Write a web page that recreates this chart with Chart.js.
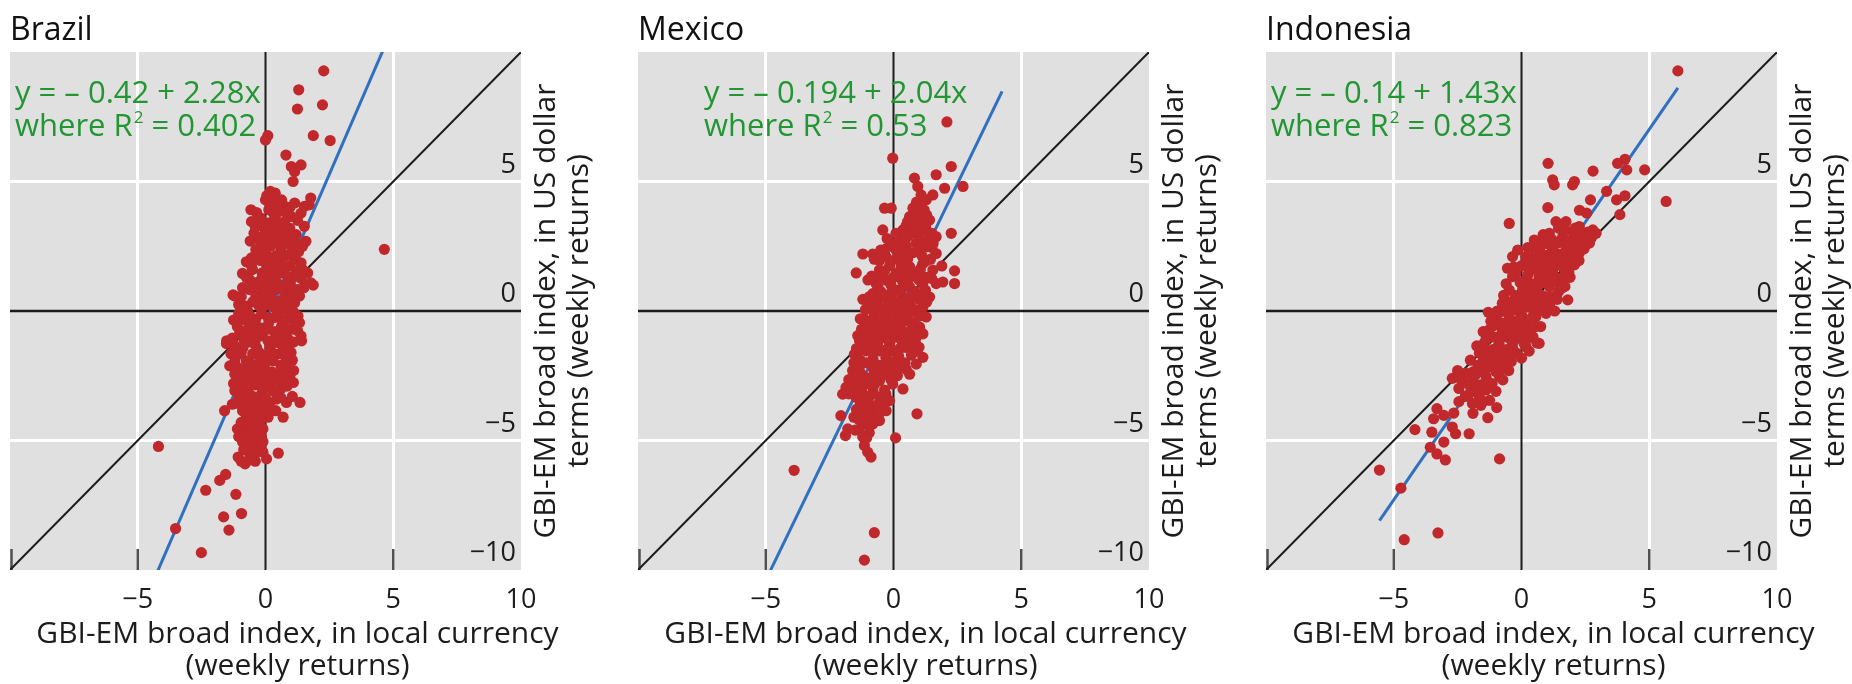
<!DOCTYPE html>
<html>
<head>
<meta charset="utf-8">
<script src="https://cdn.jsdelivr.net/npm/chart.js@4.4.1/dist/chart.umd.min.js"></script>
<style>
  html, body { margin: 0; padding: 0; background: #ffffff; width: 1852px; height: 684px; overflow: hidden; }
  canvas { position: absolute; top: 0; }
</style>
</head>
<body>
<canvas id="panel0" width="626" height="684" style="left:0px"></canvas>
<canvas id="panel1" width="626" height="684" style="left:628px"></canvas>
<canvas id="panel2" width="596" height="684" style="left:1256px"></canvas>
<script>
// Weekly returns: x = GBI-EM broad index in local currency, y = same index in US dollar terms
const brazilPoints = [
  [2.28,9.27],[1.30,8.54],[1.25,7.80],[2.23,7.96],[0.09,6.77],[0.00,6.60],[1.87,6.77],[2.53,6.58],
  [0.80,6.02],[1.01,5.58],[1.39,5.64],[1.14,5.38],[1.08,5.00],[4.65,2.38],[1.87,1.00],[-1.27,0.62],
  [0.19,4.62],[0.38,4.55],[0.00,4.29],[0.63,4.29],[0.76,4.04],[1.14,4.17],[1.52,4.04],[1.77,4.36],[1.71,4.10],
  [-0.57,3.91],[0.13,3.91],[0.38,3.65],[1.01,3.65],[1.39,3.78],[1.52,3.27],[1.58,2.69],
  [-0.13,3.27],[0.25,3.14],[0.63,3.14],[0.89,2.88],[-0.25,2.76],[0.13,2.76],[0.51,2.63],[1.01,2.50],
  [-0.38,2.37],[0.00,2.24],[0.38,2.12],[0.76,2.12],[1.14,1.99],[1.39,1.86],[1.65,1.47],[1.77,1.09],
  [-0.51,1.60],[-0.63,1.22],[-0.13,1.47],[0.25,1.35],[0.63,1.47],[1.01,1.22],[1.27,0.83],[1.33,0.58],
  [-1.20,0.58],[-0.63,0.83],[-0.38,0.58],[0.00,0.71],[0.38,0.83],[0.76,0.58],[1.14,0.32],
  [-0.76,0.19],[-0.25,0.19],[0.25,0.19],[0.63,0.06],[1.27,-0.19],[1.33,-0.45],[1.39,-0.96],
  [-0.89,-0.32],[-0.38,-0.32],[0.13,-0.45],[0.63,-0.58],[1.01,-0.71],[-1.01,-0.83],[-0.63,-0.96],
  [-0.13,-0.96],[0.38,-1.09],[0.89,-1.09],[-1.52,-1.15],
  [0.20,4.00],[0.55,3.85],[-0.20,3.60],[0.15,3.40],[0.75,3.45],[0.45,2.90],[-0.05,2.95],[0.75,2.60],
  [0.20,2.50],[-0.55,2.05],[-0.20,1.95],[0.20,1.80],[0.55,1.85],[0.95,1.75],[-0.35,1.10],[0.05,1.05],
  [0.45,1.10],[0.80,1.00],[-0.50,0.35],[0.00,0.40],[0.45,0.35],[0.90,0.20],[-0.65,-0.60],[-0.20,-0.65],
  [0.35,-0.80],[0.80,-0.35],[1.10,-1.20],[-1.20,-1.35],[-0.40,-1.15],[0.10,-1.15],[0.60,-1.25],
  [-0.45,3.00],[0.95,3.20],[1.25,2.60],[-0.60,2.70],[0.60,2.35],[1.30,2.30],[-0.75,1.90],[-0.90,1.45],
  [1.20,1.55],[0.15,1.55],[-0.90,0.90],[1.05,0.80],[-1.05,0.25],[-0.15,-0.10],[0.35,-0.25],[0.95,-0.10],
  [-1.25,-0.35],[-0.85,-1.10],[0.65,-0.95],[1.20,-0.60],[-0.55,3.45],[0.95,4.00],[0.35,4.20],
  [0.05,4.45],[0.50,4.10],[-0.35,3.80],[0.30,3.80],[0.85,3.75],[-0.10,3.45],[0.50,3.40],[1.25,3.50],
  [-0.40,3.25],[0.30,3.00],[0.70,2.95],[1.20,2.95],[-0.15,2.55],[0.35,2.70],[1.05,2.75],[1.45,2.50],
  [-0.35,2.10],[0.15,2.05],[0.55,2.15],[0.95,2.20],[1.20,2.20],[-0.55,1.75],[0.05,1.70],[0.40,1.60],
  [0.80,1.70],[1.45,1.60],[-0.75,1.30],[-0.15,1.25],[0.30,1.30],[0.85,1.35],[1.40,1.25],[-0.50,0.95],
  [-0.15,0.85],[0.25,0.95],[0.60,0.85],[1.00,0.95],[1.50,0.90],[-0.95,0.55],[-0.20,0.50],[0.20,0.55],
  [0.60,0.40],[1.00,0.50],[-0.70,0.00],[-0.05,0.20],[0.45,0.05],[0.80,0.10],[1.10,-0.05],[-1.05,-0.10],
  [-0.60,-0.20],[0.10,-0.25],[0.60,-0.30],[1.15,-0.40],[-1.10,-0.60],[-0.45,-0.55],[0.10,-0.70],[0.80,-0.75],
  [-0.85,-0.80],[-0.35,-0.85],[0.55,-1.05],[1.25,-0.75],
  [-1.53,-1.26],[-0.88,-1.41],[-0.35,-1.41],[0.17,-1.41],[0.69,-1.41],[1.41,-1.15],
  [-1.40,-2.12],[-1.20,-2.44],[-0.75,-1.92],[-0.22,-1.92],[0.30,-1.92],[0.82,-2.05],
  [1.09,-2.76],[1.35,-3.53],[0.82,-3.53],[0.43,-3.40],[0.69,-4.10],
  [-1.00,-2.56],[-0.48,-2.56],[0.04,-2.56],[0.56,-2.69],
  [-1.20,-3.08],[-0.68,-3.08],[-0.16,-3.21],[0.30,-3.08],[-1.60,-3.85],
  [-1.00,-3.59],[-0.48,-3.72],[-0.35,-4.10],[-0.75,-4.10],
  [-0.88,-4.49],[-0.48,-4.62],[-0.16,-4.87],[-0.48,-5.00],[-0.22,-5.26],[-0.75,-5.26],
  [-1.07,-5.64],[-0.62,-5.51],[0.04,-5.71],[0.50,-5.49],
  [-1.10,-1.70],[-0.50,-1.65],[0.05,-1.70],[0.55,-1.65],[1.00,-1.60],[1.10,-2.30],[-0.85,-2.30],[-0.30,-2.30],
  [0.25,-2.35],[0.75,-2.40],[-0.95,-2.85],[-0.40,-2.85],[0.10,-2.90],[0.60,-3.00],[-0.80,-3.35],[-0.25,-3.50],
  [0.15,-3.60],[1.05,-3.30],[-0.60,-3.90],[-0.10,-3.90],[-0.70,-4.70],[-0.30,-4.40],[-0.90,-5.05],[-0.35,-5.45],
  [-0.80,-5.90],[-0.40,-5.80],
  [-1.35,-1.65],[1.05,-1.90],[-1.25,-2.80],[-0.65,-2.65],[-0.15,-2.75],[0.85,-2.90],[-1.05,-3.30],[0.40,-3.85],
  [-1.30,-3.60],[-0.95,-4.30],[-0.10,-4.55],[-1.05,-4.85],[-0.55,-5.25],[-0.10,-5.45],[-0.65,-5.75],
  [-1.30,-1.05],[-0.60,-1.20],[0.30,-1.25],[0.90,-1.30],[-0.95,-1.60],[-0.25,-1.60],[0.35,-1.65],[0.80,-1.80],
  [-1.20,-1.95],[-0.55,-2.05],[0.00,-2.00],[0.60,-2.10],[-1.05,-2.20],[-0.60,-2.35],[0.00,-2.30],[0.50,-2.45],
  [0.95,-2.55],[-1.10,-2.65],[-0.20,-2.55],[0.30,-2.70],[0.80,-2.70],[-0.75,-2.80],[-0.10,-3.05],[0.40,-3.10],
  [-1.00,-3.00],[-0.50,-3.30],[0.00,-3.35],[0.60,-3.35],[-1.15,-3.55],[-0.65,-3.60],[-0.15,-3.70],[0.25,-3.85],
  [-0.90,-3.85],[-0.40,-4.00],[0.10,-4.10],[-0.70,-4.30],[-0.20,-4.25],[-1.10,-4.55],[-0.55,-4.45],[-0.30,-4.75],
  [-0.85,-4.75],[-0.60,-5.00],[-0.10,-5.05],[-0.85,-5.35],[-0.45,-5.60],[-0.95,-5.80],
  [-4.19,-5.23],[-1.79,-6.54],[-1.56,-6.31],[-2.34,-6.92],[-1.16,-7.08],[-1.64,-7.95],[-0.94,-7.82],
  [-3.52,-8.40],[-1.43,-8.46],[-2.51,-9.33]
];

const mexicoPoints = [
  [2.09,7.30],[-0.03,5.90],[2.26,5.58],[1.67,5.26],[2.72,4.81],[2.00,4.74],
  [0.82,5.13],[0.95,4.81],[1.08,4.48],[1.28,4.29],[1.54,4.48],
  [-0.35,3.97],[-0.09,3.97],[0.76,3.97],[0.63,3.64],[1.02,3.77],[1.41,3.51],
  [-0.42,3.13],[2.26,3.00],[0.37,3.13],[0.76,3.13],[1.28,3.13],[1.67,2.87],
  [-1.20,2.20],[-0.81,2.20],[-1.46,1.47],[1.89,1.74],
  [-0.55,1.58],[-0.29,2.09],[0.10,2.35],[0.50,2.48],[0.89,2.61],[1.28,2.48],[1.67,2.22],
  [2.39,1.55],[2.39,1.06],[1.93,1.12],
  [-0.68,1.06],[-0.29,1.19],[0.10,1.45],[0.63,1.71],[1.15,1.83],[1.54,1.58],[1.67,1.06],
  [-0.81,0.67],[-0.42,0.54],[0.10,0.80],[0.63,0.93],[1.15,1.06],[1.41,0.54],
  [-0.94,0.16],[-0.42,0.03],[0.10,0.16],[0.63,0.28],[1.15,0.16],[1.28,-0.23],
  [-1.07,-0.36],[-0.55,-0.49],[-0.03,-0.36],[0.50,-0.36],[1.02,-0.62],[1.15,-0.88],
  [-1.33,-1.14],[-0.94,-1.01],[-0.42,-1.01],[0.10,-1.01],[0.63,-1.27],
  [0.90,4.20],[0.75,3.60],[1.10,3.40],[0.50,3.30],[0.25,2.75],[0.60,2.90],[1.00,2.90],[1.35,2.75],
  [-0.10,2.60],[0.30,2.05],[0.75,2.25],[1.10,2.15],[1.45,2.00],[-0.55,1.95],[-0.15,1.75],[0.30,1.70],
  [0.85,1.40],[1.30,1.30],[-0.45,1.30],[0.35,1.15],[0.85,0.75],[1.25,0.80],[-0.60,0.90],[-0.15,0.65],
  [0.35,0.55],[-0.70,0.40],[-0.20,0.30],[0.40,0.00],[0.85,0.05],[-0.75,-0.15],[0.20,-0.20],[0.80,-0.45],
  [-0.80,-0.70],[-0.25,-0.70],[0.30,-0.70],[0.90,-1.00],[-1.10,-1.30],[-0.65,-1.30],[-0.15,-1.25],[0.35,-1.20],
  [1.20,3.90],[0.90,3.35],[0.25,2.45],[-0.50,2.35],[1.50,2.45],[0.00,1.30],[0.60,1.25],[-1.00,1.20],
  [1.00,0.45],[-0.10,0.05],[-1.25,-0.70],[0.60,-0.10],[-0.35,-0.25],[1.00,-1.40],[0.45,0.30],[-0.95,-0.55],
  [-1.20,0.45],
  [1.05,4.00],[0.85,3.85],[1.30,3.70],[0.55,3.45],[1.25,3.30],[0.10,3.00],[0.90,3.10],[1.50,3.00],
  [-0.25,2.80],[0.45,2.65],[1.10,2.65],[1.55,2.60],[-0.30,2.40],[0.35,2.30],[0.95,2.35],[-0.75,2.00],
  [0.10,2.00],[0.55,2.00],[1.30,1.95],[-0.35,1.55],[0.45,1.50],[1.05,1.60],[1.50,1.25],[-0.85,1.35],
  [-0.10,1.00],[0.55,1.05],[1.00,1.20],[-0.50,0.75],[0.30,0.85],[1.10,0.65],[-0.95,0.55],[-0.05,0.45],
  [0.70,0.60],[1.30,0.35],[-1.10,0.05],[-0.60,0.20],[0.20,0.35],[0.60,0.10],[1.00,-0.20],[-1.30,-0.30],
  [-0.80,-0.35],[-0.20,-0.45],[0.30,-0.45],[0.70,-0.70],[-1.05,-0.75],[-0.50,-0.75],[0.05,-0.70],[0.55,-1.10],
  [-1.40,-0.95],[-0.80,-1.10],[-0.25,-1.05],
  [-1.07,-1.03],[-0.55,-0.90],[-0.03,-0.90],[0.63,-0.90],[1.09,-0.83],
  [-1.53,-1.67],[-1.07,-1.54],[-0.55,-1.54],[-0.03,-1.54],[0.50,-1.41],[1.15,-1.79],[0.89,-2.05],
  [-1.34,-2.18],[-0.81,-2.18],[-0.29,-2.05],[0.24,-2.18],[0.63,-2.44],[0.37,-3.01],
  [-1.86,-2.95],[-1.99,-3.21],[-1.47,-2.69],[-1.07,-2.82],[-0.55,-2.69],[-0.03,-2.82],
  [-1.47,-3.33],[-1.07,-3.46],[-0.55,-3.33],[-0.16,-3.46],
  [-1.20,-3.85],[-0.81,-3.97],[-0.29,-3.85],[-1.79,-4.55],[-1.88,-4.81],
  [-1.20,-4.36],[-0.81,-4.36],[-0.55,-4.23],[-1.20,-4.87],[-1.14,-5.19],[-1.01,-5.45],[-0.88,-5.64],
  [-0.80,-2.50],[-0.30,-2.45],[0.15,-2.50],[-1.25,-3.10],[-0.80,-3.10],[-0.35,-3.05],[-0.85,-3.65],[-0.40,-3.60],
  [-1.00,-4.15],[-0.95,-4.70],[-0.60,-1.20],[-1.30,-1.90],[-0.80,-1.85],[-0.30,-1.80],[0.20,-1.75],[0.70,-1.70],
  [0.85,-1.20],[0.30,-1.05],
  [-1.60,-2.30],[-1.20,-2.50],[-0.40,-2.15],[0.45,-2.00],[-1.60,-3.00],[-1.30,-3.60],[-0.60,-3.90],[-1.55,-4.10],
  [-1.50,-4.60],[-1.45,-1.45],[0.00,-1.95],[0.50,-2.25],
  [-1.25,-1.50],[-0.80,-1.45],[-0.30,-1.50],[0.25,-1.45],[0.90,-1.55],[-1.55,-2.00],[-1.05,-2.00],[-0.55,-2.10],
  [0.00,-2.30],[-1.30,-2.40],[-0.95,-2.60],[-0.55,-2.45],[-0.10,-2.65],[-1.75,-2.65],[-1.30,-2.85],[-0.75,-2.85],
  [-0.30,-3.20],[-1.75,-3.20],[-1.30,-3.35],[-0.95,-3.30],[-0.60,-3.60],[-1.45,-3.80],[-1.05,-3.75],[-0.55,-3.95],
  [-1.35,-4.20],[-0.95,-4.45],[-1.35,-4.60],[-1.05,-4.90],
  [0.92,-3.97],[-2.06,-4.04],[0.08,-4.90],[-3.89,-6.15],[-0.75,-8.56],[-1.14,-9.62]
];

const indonesiaPoints = [
  [6.12,9.27],[1.04,5.70],[4.05,5.86],[3.76,5.70],[4.12,5.45],[4.82,5.45],[2.80,5.40],[1.22,5.06],
  [1.28,4.87],[2.00,4.87],[2.07,5.00],[3.33,4.62],[4.05,4.45],[3.72,4.29],[2.70,4.29],[5.66,4.23],
  [1.03,3.99],[2.27,3.89],[2.55,3.78],[3.85,3.72],[-0.48,3.38],
  [1.35,3.45],[1.74,3.45],[2.26,3.26],[2.79,3.13],[2.92,3.00],
  [0.50,2.74],[1.09,3.00],[1.61,2.87],[2.13,2.74],[2.66,2.62],
  [-0.35,2.10],[0.17,2.10],[0.69,2.36],[1.22,2.49],[1.74,2.36],[2.26,2.23],[2.07,1.78],
  [-0.22,1.46],[0.30,1.59],[0.82,1.84],[1.35,1.97],[1.61,1.71],
  [-0.35,1.33],[0.17,1.20],[0.69,1.33],[1.22,1.46],[1.48,1.07],[1.81,0.43],
  [-0.48,0.81],[0.04,0.81],[0.56,0.81],[1.09,0.94],[1.22,0.55],
  [-0.75,0.30],[-0.22,0.30],[0.30,0.43],[0.82,0.30],
  [-1.01,-0.22],[-0.48,-0.22],[0.04,-0.22],[0.56,-0.22],[0.96,-0.09],
  [-1.27,-0.73],[-0.75,-0.73],[-0.22,-0.73],[0.30,-0.86],
  [-1.47,-1.25],[-0.88,-1.25],[-0.35,-1.25],[0.17,-1.38],[0.69,-1.25],
  [0.85,2.95],[1.45,3.20],[2.00,3.05],[2.45,2.90],[0.25,2.45],[0.95,2.60],[1.50,2.65],[1.95,2.50],
  [2.45,2.40],[0.45,2.05],[1.00,2.15],[1.45,2.20],[1.90,2.05],[0.00,1.75],[0.55,1.60],[1.05,1.65],
  [1.85,1.50],[-0.05,1.10],[0.45,1.05],[0.95,1.20],[1.30,1.20],[-0.25,0.60],[0.30,0.70],[0.80,0.60],
  [1.45,0.75],[-0.50,0.05],[0.05,0.10],[0.55,0.15],[1.10,0.25],[-0.85,-0.45],[-0.30,-0.45],[0.25,-0.50],
  [0.75,-0.60],[-1.10,-1.00],[-0.60,-1.00],[-0.05,-1.05],[0.45,-1.00],[-0.15,0.50],
  [1.70,3.15],[2.30,3.00],[2.75,2.85],[0.70,2.70],[1.20,2.75],[-0.15,2.35],[0.60,1.90],[1.55,1.90],
  [2.25,1.95],[-0.55,1.65],[1.00,1.45],[1.60,1.30],[-0.70,0.60],[1.70,0.95],[0.00,0.45],[1.30,0.00],
  [-1.30,-0.05],[-0.05,-0.60],[0.55,-0.60],[-1.00,-1.45],[0.20,-1.10],
  [1.55,3.35],[2.10,3.20],[2.60,3.05],[0.95,2.85],[1.35,2.60],[1.80,2.70],[2.30,2.55],[0.40,2.45],
  [0.75,2.25],[1.20,2.30],[1.65,2.15],[2.10,2.35],[0.25,1.90],[0.80,2.00],[1.20,1.85],[1.75,1.85],
  [-0.30,1.70],[0.25,1.40],[0.70,1.55],[1.25,1.65],[1.90,1.30],[-0.60,1.05],[0.20,0.95],[0.70,1.05],
  [1.15,1.10],[1.60,0.90],[-0.40,0.35],[0.15,0.60],[0.60,0.45],[1.00,0.55],[1.40,0.45],[-0.95,0.00],
  [-0.20,0.05],[0.30,0.15],[0.80,0.05],[-1.20,-0.40],[-0.55,-0.60],[0.00,-0.45],[0.40,-0.70],[-1.35,-0.85],
  [-0.45,-1.05],[0.10,-1.25],
  [-0.86,-0.06],[-0.33,0.06],[-1.12,-0.58],[-0.60,-0.45],[-0.07,-0.32],[0.46,-0.19],
  [-1.39,-1.10],[-0.86,-0.97],[-0.33,-0.84],[0.20,-0.84],[0.60,-1.23],
  [-1.65,-1.62],[-1.12,-1.49],[-0.60,-1.49],[-0.20,-1.62],[0.00,-1.82],
  [-2.71,-2.60],[-2.18,-2.40],[-1.92,-2.66],[-1.39,-2.53],[-0.86,-2.53],[-0.73,-2.66],
  [-2.45,-2.99],[-1.92,-3.05],[-1.39,-3.05],[-1.65,-3.31],
  [-1.92,-3.57],[-1.59,-3.64],[-0.97,-3.73],[-1.32,-4.12],
  [-1.30,-1.75],[-0.85,-1.80],[-0.40,-1.95],[-1.70,-2.10],[-1.20,-2.15],[-0.75,-2.20],[-2.30,-2.75],
  [-1.60,-2.85],[-1.15,-2.80],[-2.20,-3.30],[-1.25,-3.45],[-0.35,-1.45],[0.30,-1.55],[-1.75,-1.35],[-1.50,-0.80],
  [-2.00,-1.90],[-2.50,-2.30],[-1.00,-3.10],[-1.90,-3.95],[-2.45,-3.50],[-0.50,-2.30],
  [-1.45,-1.45],[-0.95,-1.60],[-0.55,-1.70],[-1.50,-1.90],[-1.05,-2.00],[-0.55,-2.00],[-1.90,-2.35],[-1.45,-2.30],
  [-1.00,-2.35],[-2.05,-2.85],[-1.80,-2.45],[-1.35,-2.70],[-1.75,-3.00],[-2.40,-2.60],[-1.50,-3.50],[-2.05,-3.20],
  [-3.31,-3.77],[-3.04,-4.03],[-2.65,-3.94],[-3.44,-4.16],
  [-4.17,-4.58],[-3.51,-4.68],[-2.71,-4.48],[-2.58,-4.74],[-2.05,-4.74],
  [-3.04,-5.06],[-3.57,-5.26],[-3.31,-5.52],[-2.98,-5.75],
  [-0.86,-5.71],[-5.56,-6.14],[-4.72,-6.84],[-3.27,-8.57],[-4.59,-8.83]
];

const panelNames = ['Brazil', 'Mexico', 'Indonesia'];
const panelPoints = [brazilPoints, mexicoPoints, indonesiaPoints];
// Fitted regression y = a + b·x, with its R² and the x span it is drawn over
const fitIntercepts = [-0.42, -0.194, -0.14];
const fitSlopes = [2.28, 2.04, 1.43];
const fitRSquared = [0.402, 0.53, 0.823];
const fitXRanges = [[-4.30, 4.65], [-4.90, 4.25], [-5.56, 6.12]];
const xTickValues = [-5, 0, 5, 10];
const yTickValues = [-10, -5, 0, 5];
const xAxisTitle = ['GBI-EM broad index, in local currency', '(weekly returns)'];
const yAxisTitle = ['GBI-EM broad index, in US dollar', 'terms (weekly returns)'];

const FONT = '"Open Sans", "Noto Sans", sans-serif';
const BG = '#e0e0e0';
const DOT = '#c0282b';
const FIT = '#3070c0';
const EQ_GREEN = '#229632';
const INK = '#1c1c1c';

Chart.defaults.font.family = FONT;
Chart.defaults.color = INK;

const minusLabel = v => (v < 0 ? '\u2212' + Math.abs(v) : String(v));

// Grey plot background, zero axes, tick labels, inner tick marks and panel annotations
const panelDecor = {
  id: 'panelDecor',
  beforeDraw(chart) {
    const {ctx, chartArea: a} = chart;
    ctx.save();
    ctx.fillStyle = BG;
    ctx.fillRect(a.left, a.top, a.right - a.left, a.bottom - a.top);
    ctx.restore();
  },
  beforeDatasetsDraw(chart) {
    const {ctx, chartArea: a, scales} = chart;
    const x0 = scales.x.getPixelForValue(0);
    const y0 = scales.y.getPixelForValue(0);
    ctx.save();
    ctx.strokeStyle = INK;
    ctx.lineWidth = 2;
    ctx.beginPath(); ctx.moveTo(x0, a.top); ctx.lineTo(x0, a.bottom); ctx.stroke();
    ctx.lineWidth = 2.5;
    ctx.beginPath(); ctx.moveTo(a.left, y0); ctx.lineTo(a.right, y0); ctx.stroke();
    ctx.strokeStyle = '#505050';
    ctx.lineWidth = 2.5;
    [-10, -5, 5].forEach(v => {
      const px = Math.max(scales.x.getPixelForValue(v), a.left + 1.5);
      ctx.beginPath(); ctx.moveTo(px, a.bottom); ctx.lineTo(px, a.bottom - 21); ctx.stroke();
    });

    // tick labels: x below the plot, y inside the right edge sitting above each gridline
    ctx.fillStyle = INK;
    ctx.font = '27px ' + FONT;
    ctx.textBaseline = 'alphabetic';
    ctx.textAlign = 'center';
    scales.x.ticks.forEach(t => {
      ctx.fillText(minusLabel(t.value), scales.x.getPixelForValue(t.value), a.bottom + 38);
    });
    ctx.textAlign = 'right';
    scales.y.ticks.forEach(t => {
      ctx.fillText(minusLabel(t.value), a.right - 5, scales.y.getPixelForValue(t.value) - 9);
    });
    ctx.restore();
  },
  afterDraw(chart) {
    const {ctx, chartArea: a} = chart;
    const o = chart.options.plugins.panelDecor;
    ctx.save();
    // panel title
    ctx.fillStyle = '#111';
    ctx.font = '32px ' + FONT;
    ctx.textAlign = 'left';
    ctx.textBaseline = 'alphabetic';
    ctx.fillText(o.title, a.left, 40);

    // regression equation
    ctx.fillStyle = EQ_GREEN;
    ctx.font = '31px ' + FONT;
    const ex = a.left + o.eqOffset;
    const a0 = o.intercept, b1 = o.slope;
    const line1 = 'y = ' + (a0 < 0 ? '\u2013 ' : '') + Math.abs(a0) + ' + ' + b1 + 'x';
    ctx.fillText(line1, ex, a.top + 51);
    let cx = ex;
    const yb = a.top + 84;
    ctx.fillText('where R', cx, yb);
    cx += ctx.measureText('where R').width + 1;
    ctx.font = '17px ' + FONT;
    ctx.fillText('2', cx, yb - 13);
    cx += ctx.measureText('2').width;
    ctx.font = '31px ' + FONT;
    ctx.fillText(' = ' + o.r2, cx, yb);

    // x axis title
    ctx.fillStyle = INK;
    ctx.font = '30px ' + FONT;
    ctx.textAlign = 'center';
    ctx.textBaseline = 'middle';
    const xc = (a.left + a.right) / 2 + 32;
    ctx.fillText(xAxisTitle[0], xc, a.bottom + 64);
    ctx.fillText(xAxisTitle[1], xc, a.bottom + 96);

    // y axis title, reading upwards
    const yc = (a.top + a.bottom) / 2;
    [25, 58].forEach((dx, i) => {
      ctx.save();
      ctx.translate(a.right + dx, yc);
      ctx.rotate(-Math.PI / 2);
      ctx.fillText(yAxisTitle[i], 0, 0);
      ctx.restore();
    });
    ctx.restore();
  }
};

function buildPanel(i) {
  const pts = panelPoints[i].map(p => ({x: p[0], y: p[1]}));
  const a0 = fitIntercepts[i], b1 = fitSlopes[i];
  const fitLine = fitXRanges[i].map(x => ({x: x, y: a0 + b1 * x}));
  const diagonal = [{x: -10, y: -10}, {x: 10, y: 10}];
  const canvas = document.getElementById('panel' + i);
  const padRight = canvas.width - 511 - 10;
  const gridColor = c => (Math.abs(c.tick.value) === 5 ? '#ffffff' : 'rgba(0,0,0,0)');

  return new Chart(canvas, {
    type: 'scatter',
    data: {
      datasets: [
        {data: pts, pointRadius: 5.6, pointHoverRadius: 5.6, backgroundColor: DOT, borderWidth: 0},
        {data: fitLine, showLine: true, pointRadius: 0, borderColor: FIT, borderWidth: 3},
        {data: diagonal, showLine: true, pointRadius: 0, borderColor: INK, borderWidth: 2}
      ]
    },
    options: {
      responsive: false,
      devicePixelRatio: 1,
      animation: false,
      events: [],
      layout: {padding: {left: 10, right: padRight, top: 52, bottom: 114}},
      plugins: {
        legend: {display: false},
        tooltip: {enabled: false},
        panelDecor: {
          title: panelNames[i],
          intercept: a0,
          slope: b1,
          r2: fitRSquared[i],
          eqOffset: i === 1 ? 66 : 5
        }
      },
      scales: {
        x: {
          type: 'linear', position: 'bottom', min: -10, max: 10,
          afterBuildTicks: s => { s.ticks = xTickValues.map(v => ({value: v})); },
          grid: {color: gridColor, lineWidth: 3, drawTicks: false},
          border: {display: false},
          ticks: {display: false}
        },
        y: {
          type: 'linear', position: 'right', min: -10, max: 10,
          afterBuildTicks: s => { s.ticks = yTickValues.map(v => ({value: v})); },
          grid: {color: gridColor, lineWidth: 3, drawTicks: false},
          border: {display: false},
          ticks: {display: false}
        }
      }
    },
    plugins: [panelDecor]
  });
}

[0, 1, 2].forEach(buildPanel);
</script>
</body>
</html>
